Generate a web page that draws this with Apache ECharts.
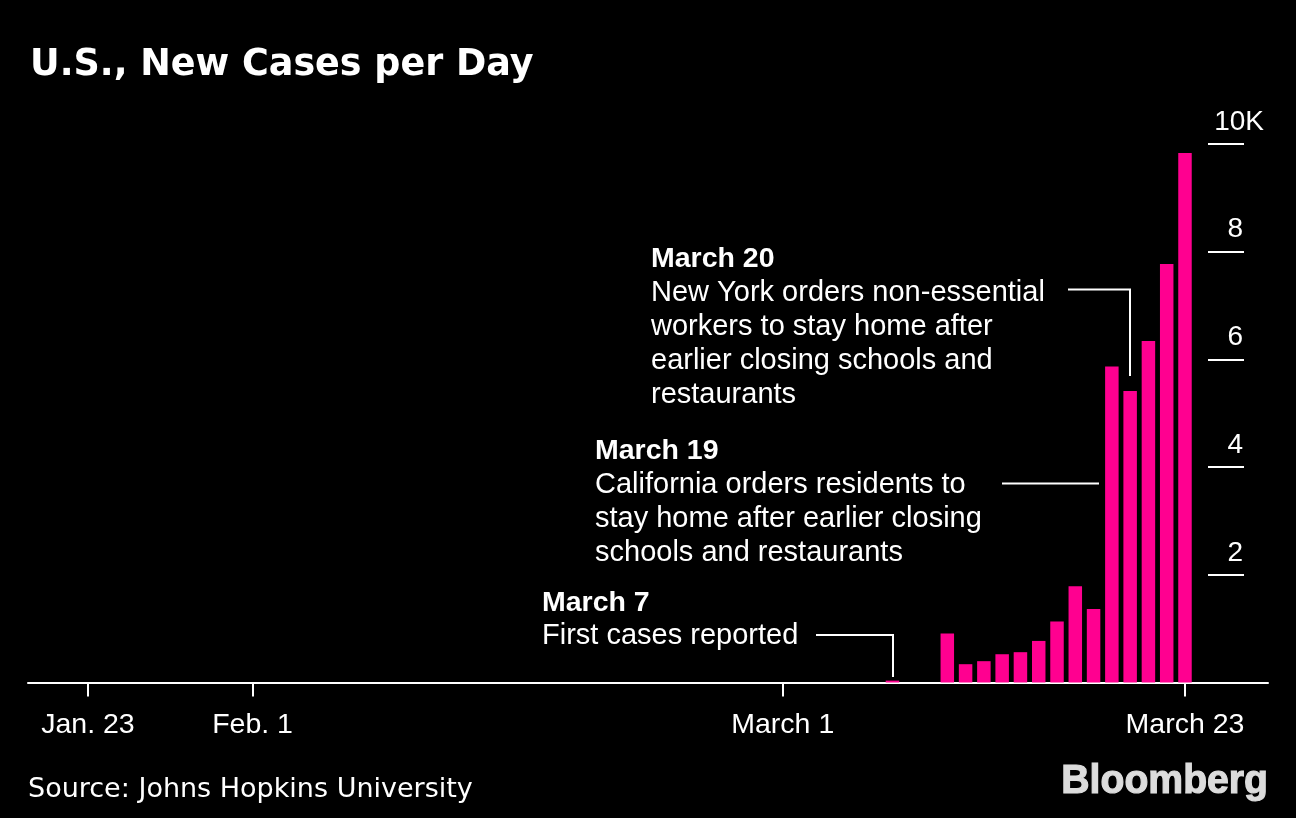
<!DOCTYPE html>
<html>
<head>
<meta charset="utf-8">
<style>
  html, body { margin: 0; padding: 0; background: #000; }
  #main { width: 1296px; height: 818px; }
</style>
<script src="https://cdn.jsdelivr.net/npm/echarts@6/dist/echarts.min.js"></script>
</head>
<body>
<div id="main"></div>
<script>
// days counted from Jan. 23, new cases
const days = [44, 47, 48, 49, 50, 51, 52, 53, 54, 55, 56, 57, 58, 59, 60];
const cases = [35, 910, 340, 396, 525, 563, 772, 1133, 1788, 1367, 5868, 5415, 6343, 7773, 9834];
const tickDays = [0, 9, 38, 60];
const tickNames = ['Jan. 23', 'Feb. 1', 'March 1', 'March 23'];
const yTicks = [2000, 4000, 6000, 8000];
const yNames = ['2', '4', '6', '8'];

const white = '#fff';
const pink = '#ff0090';
const sans = '"Liberation Sans", Arial, sans-serif';

let chart = echarts.init(document.getElementById('main'));

function note(x, y, head, lines, step) {
    let items = [{
        type: 'text', x: x, y: y,
        style: { text: head, fill: white, font: 'bold 28.5px ' + sans, textVerticalAlign: 'middle' }
    }];
    lines.forEach((line, i) => {
        items.push({
            type: 'text', x: x, y: y + step * (i + 1),
            style: { text: line, fill: white, font: '29px ' + sans, textVerticalAlign: 'middle' }
        });
    });
    return items;
}

function leader(points) {
    return {
        type: 'polyline',
        shape: { points: points },
        style: { stroke: white, lineWidth: 2, fill: null }
    };
}

const option = {
    backgroundColor: '#000',
    animation: false,
    title: {
        text: 'U.S., New Cases per Day',
        left: 25, top: 42,
        textStyle: { color: white, fontFamily: '"DejaVu Sans"', fontWeight: 'bold', fontSize: 36.5 }
    },
    grid: [
        { left: 28, right: 28, top: 144, bottom: 135.5 },
        // the short value rules are the split lines of a narrow second grid
        { left: 1208, right: 52, top: 144, bottom: 135.5 }
    ],
    xAxis: [
        {
            type: 'value',
            min: -3.28,
            max: 64.54,
            splitLine: { show: false },
            axisLine: { show: true, onZero: false, lineStyle: { color: white, width: 2 } },
            axisTick: { show: true, length: 14, customValues: tickDays, lineStyle: { color: white, width: 2 } },
            axisLabel: {
                customValues: tickDays,
                formatter: v => tickNames[tickDays.indexOf(v)],
                color: white, fontFamily: sans, fontSize: 28.5, margin: 28
            }
        },
        { type: 'value', gridIndex: 1, show: false, min: 0, max: 1 }
    ],
    yAxis: [
        {
            // 10K sticks out past the other labels, so it gets its own axis
            type: 'value', position: 'right', offset: -4,
            min: 0, max: 10000,
            splitLine: { show: false },
            axisLine: { show: false },
            axisTick: { show: false },
            axisLabel: {
                inside: true, margin: 0, customValues: [10000],
                formatter: () => '10K',
                color: white, fontFamily: sans, fontSize: 28,
                verticalAlign: 'bottom', align: 'right', padding: [0, 0, 8, 0]
            }
        },
        {
            type: 'value', gridIndex: 1, position: 'right',
            min: 0, max: 10000, interval: 2000,
            splitLine: { show: true, lineStyle: { color: white, width: 2 } },
            axisLine: { show: false },
            axisTick: { show: false },
            axisLabel: {
                inside: true, margin: 1,
                formatter: v => yNames[yTicks.indexOf(v)] || '',
                color: white, fontFamily: sans, fontSize: 28,
                verticalAlign: 'bottom', align: 'right', padding: [0, 0, 8, 0]
            }
        }
    ],
    series: [{
        type: 'bar',
        barWidth: 13.5,
        itemStyle: { color: pink },
        data: days.map((d, i) => [d, cases[i]])
    }],
    graphic: [
        ...note(651, 259, 'March 20', ['New York orders non-essential', 'workers to stay home after', 'earlier closing schools and', 'restaurants'], 34),
        ...note(595, 451, 'March 19', ['California orders residents to', 'stay home after earlier closing', 'schools and restaurants'], 34),
        ...note(542, 603, 'March 7', ['First cases reported'], 33),
        leader([[1068, 289.5], [1130, 289.5], [1130, 376]]),
        leader([[1002, 483.5], [1099, 483.5]]),
        leader([[816, 635], [893, 635], [893, 677]]),
        {
            type: 'text', x: 28, y: 790,
            style: { text: 'Source: Johns Hopkins University', fill: white, font: '27px "DejaVu Sans"', textVerticalAlign: 'middle' }
        },
        {
            type: 'text', x: 1268, y: 782, scaleX: 0.955,
            style: { text: 'Bloomberg', fill: '#dcdcdc', stroke: '#dcdcdc', lineWidth: 1.2, font: 'bold 41px ' + sans, textAlign: 'right', textVerticalAlign: 'middle' }
        }
    ]
};

chart.setOption(option);
</script>
</body>
</html>
